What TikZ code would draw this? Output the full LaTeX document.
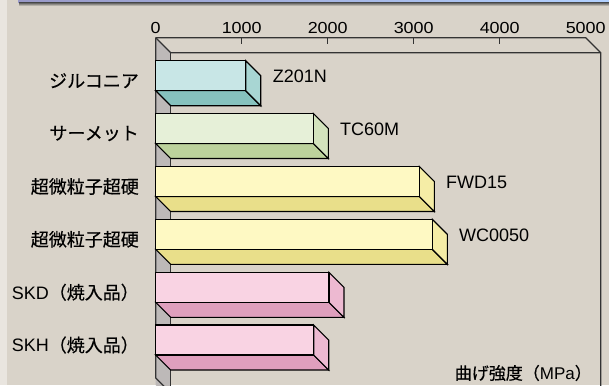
\documentclass[tikz,border=0pt]{standalone}
\usepackage{fontspec}
\setmainfont{Liberation Sans}
\newfontfamily\cjk[FakeBold=0.4]{Noto Sans CJK JP}
\newfontfamily\numfont[FakeStretch=1.12]{Liberation Sans}
\definecolor{bgc}{HTML}{D9D3C9}
\definecolor{stripc}{HTML}{E9E5DF}
\definecolor{wallc}{HTML}{BDB9B8}
\definecolor{axc}{HTML}{333333}
\definecolor{tealF}{HTML}{C8E6E6}\definecolor{tealB}{HTML}{86C2BE}\definecolor{tealS}{HTML}{A8D6D3}
\definecolor{grnF}{HTML}{E6F0D8}\definecolor{grnB}{HTML}{BCD29C}\definecolor{grnS}{HTML}{D3E3BD}
\definecolor{ylwF}{HTML}{FEF9C3}\definecolor{ylwB}{HTML}{E9DF8A}\definecolor{ylwS}{HTML}{F5EDA6}
\definecolor{pnkF}{HTML}{F9D3E3}\definecolor{pnkB}{HTML}{DF9FBD}\definecolor{pnkS}{HTML}{EDB9D1}
\tikzset{
  barline/.style={draw=black,line width=1.1pt,line join=miter},
  axline/.style={draw=axc,line width=1.2pt},
  ticklab/.style={font=\numfont\fontsize{16}{16}\selectfont,text=black,inner sep=0pt},
  catlab/.style={font=\fontsize{18}{18}\selectfont,text=black,inner sep=0pt,anchor=east},
  vallab/.style={font=\fontsize{18}{18}\selectfont,text=black,inner sep=0pt,anchor=west},
}
\newcommand{\mybar}[5]{% top, xend, front, bottom, side
  \fill[#4] (155.7,#1+30) -- (#2,#1+30) -- (#2+15,#1+45) -- (170.7,#1+45) -- cycle;
  \draw[barline] (155.7,#1+30) -- (#2,#1+30) -- (#2+15,#1+45) -- (170.7,#1+45) -- cycle;
  \filldraw[barline,fill=#5] (#2,#1) -- (#2+15,#1+15) -- (#2+15,#1+45) -- (#2,#1+30) -- cycle;
  \filldraw[barline,fill=#3] (155.7,#1) rectangle (#2,#1+30);
}
\begin{document}
\begin{tikzpicture}[x=1pt,y=-1pt]
\useasboundingbox (0,0) rectangle (609,385);
\begin{scope}
\clip (0,0) rectangle (609,385);
\fill[bgc] (0,0) rectangle (609,385);
\fill[stripc] (0,0) rectangle (7,385);
% header
\shade[left color=black!55!blue!40, right color=cyan!40!blue!30!white] (18,-1) rectangle (609,2.2);
\shade[top color=black!70, bottom color=bgc] (19,2.2) rectangle (609,6);
% left wall
\fill[wallc] (155.7,37.7) -- (170.7,52.7) -- (170.7,400) -- (155.7,385) -- cycle;
\draw[axline] (155.7,37.7) -- (155.7,378) -- (170.7,393);
\draw[axline] (170.7,52.7) -- (170.7,400);
% back plane edges
\draw[axline] (155.7,37.7) -- (585.7,37.7) -- (600.7,52.7) -- (600.7,400);
\draw[axline] (155.7,37.7) -- (170.7,52.7) -- (600.7,52.7);
\foreach \k in {1,2,3,4} \draw[axline] (155.7+86*\k,37.7) -- (155.7+86*\k,44);
% bars
\mybar{60.7}{245.7}{tealF}{tealB}{tealS}
\mybar{113.5}{313.3}{grnF}{grnB}{grnS}
\mybar{166.5}{419.3}{ylwF}{ylwB}{ylwS}
\mybar{219.3}{432.3}{ylwF}{ylwB}{ylwS}
\mybar{272.3}{329}{pnkF}{pnkB}{pnkS}
\mybar{325}{313.7}{pnkF}{pnkB}{pnkS}
\end{scope}
% tick labels
\foreach \k/\t in {0/0,1/1000,2/2000,3/3000,4/4000,5/5000}
  \node[ticklab] (tick\k) at (155.7+86*\k,27.7) {\t};
% category labels
\node[catlab] (lab1) at (139,80.7) {\cjk ジルコニア};
\node[catlab] (lab2) at (139,133.5) {\cjk サーメット};
\node[catlab] (lab3) at (139,186.5) {\cjk 超微粒子超硬};
\node[catlab] (lab4) at (139,239.3) {\cjk 超微粒子超硬};
\node[catlab] (lab5) at (139,292.3) {SKD{\cjk （焼入品）}};
\node[catlab] (lab6) at (139,345) {SKH{\cjk （焼入品）}};
% value labels
\node[vallab] (val1) at (272.7,76.7) {Z201N};
\node[vallab] (val2) at (340,129.5) {TC60M};
\node[vallab] (val3) at (446,182.5) {FWD15};
\node[vallab] (val4) at (459,235.3) {WC0050};
% axis title
\node[font=\fontsize{17}{17}\selectfont,inner sep=0pt,anchor=east,text=black] (axtitle) at (592,373) {{\cjk 曲げ強度（}MPa{\cjk ）}};
\end{tikzpicture}
\end{document}
